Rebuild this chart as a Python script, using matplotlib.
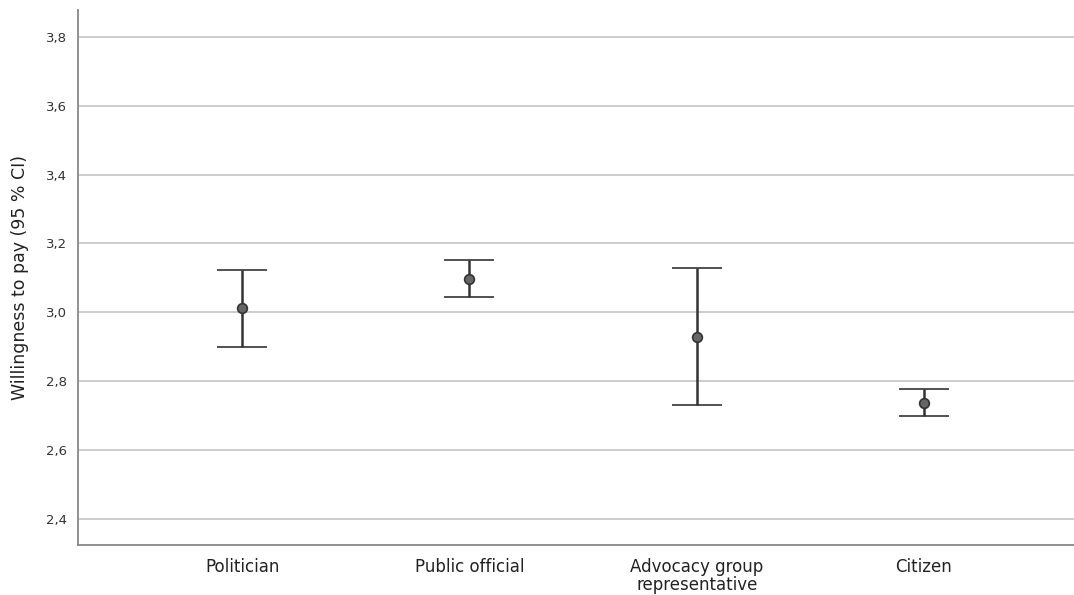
import matplotlib
matplotlib.use("Agg")
import matplotlib.pyplot as plt
import numpy as np

categories = ["Politician", "Public official", "Advocacy group\nrepresentative", "Citizen"]
means = [3.012, 3.097, 2.928, 2.737]
ci_low = [2.898, 3.045, 2.730, 2.699]
ci_high = [3.124, 3.151, 3.129, 2.776]
yticks = [2.4, 2.6, 2.8, 3.0, 3.2, 3.4, 3.6, 3.8]
ytick_labels = ["2,4", "2,6", "2,8", "3,0", "3,2", "3,4", "3,6", "3,8"]

fig = plt.figure(figsize=(10.74, 5.95), dpi=100)
ax = fig.add_axes([78/1074, 1-545/595, 1-78/1074, (545-10)/595])

x = np.arange(len(categories))
means_a = np.array(means)
err = np.vstack([means_a - np.array(ci_low), np.array(ci_high) - means_a])
ax.errorbar(x, means_a, yerr=err, fmt='o', color='#333333', ecolor='#333333',
            elinewidth=1.8, capsize=18, capthick=1.6, markersize=7,
            markerfacecolor='#666666', markeredgecolor='#333333', markeredgewidth=1.2, zorder=3)

ax.set_xlim(-0.722, 3.66)
ax.set_ylim(2.324, 3.878)
ax.set_yticks(yticks)
ax.set_yticklabels(ytick_labels, fontsize=9.5, color='#333333', family='DejaVu Sans')
ax.set_xticks(x)
ax.set_xticklabels(categories, fontsize=12, color='#222222', family='DejaVu Sans', linespacing=1.0)
ax.tick_params(axis='both', length=0, pad=8)
ax.tick_params(axis='x', pad=9)
ax.yaxis.grid(True, color='#c8c8c8', linewidth=1.3)
ax.set_axisbelow(True)
for s in ['top', 'right']:
    ax.spines[s].set_visible(False)
for s in ['left', 'bottom']:
    ax.spines[s].set_color('#888888')
    ax.spines[s].set_linewidth(1.3)
ax.set_ylabel("Willingness to pay (95 % CI)", fontsize=12.5, color='#222222', family='DejaVu Sans', labelpad=12)

fig.savefig("out.png", dpi=100)
